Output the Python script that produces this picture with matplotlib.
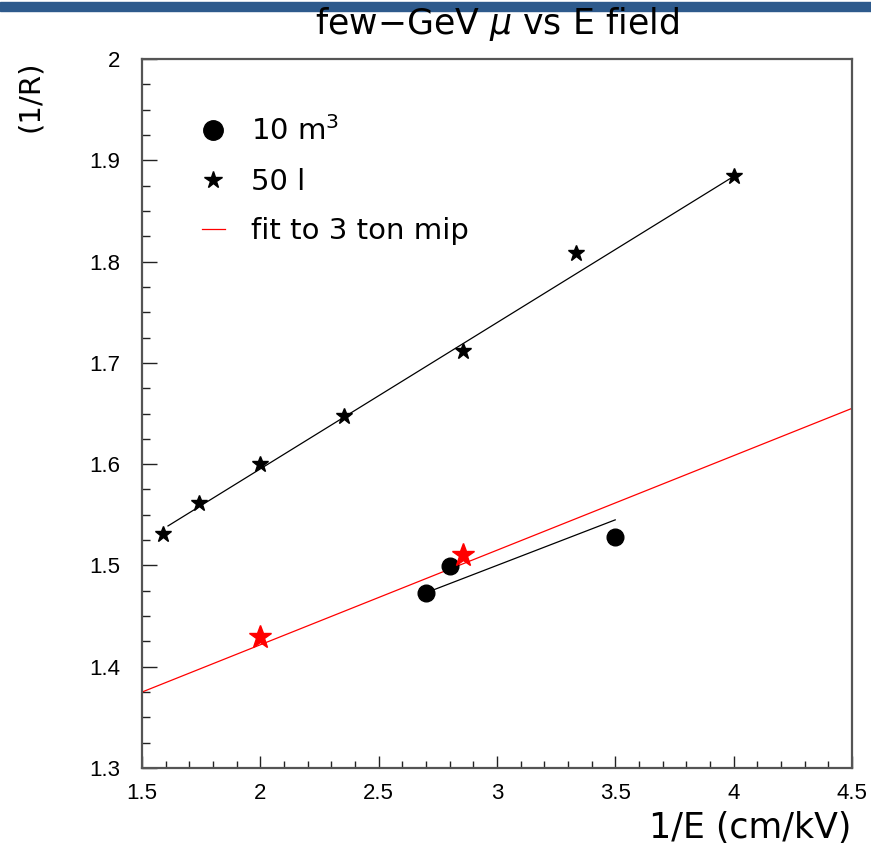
import matplotlib
matplotlib.use("Agg")
import matplotlib.pyplot as plt
from matplotlib.lines import Line2D
from matplotlib.patches import Rectangle
from matplotlib.ticker import MultipleLocator

plt.rcParams["font.family"] = ["Liberation Sans", "DejaVu Sans"]
plt.rcParams["mathtext.fontset"] = "dejavusans"

# 50 l chamber (black stars)
x_50l = [1.587, 1.739, 2.0, 2.353, 2.857, 3.333, 4.0]
y_50l = [1.531, 1.562, 1.600, 1.648, 1.712, 1.808, 1.884]
# fit line through the 50 l points (end points)
fit50_x = [1.61, 4.0]
fit50_y = [1.539, 1.884]

# 10 m3 (black circles)
x_10m3 = [2.7, 2.8, 3.5]
y_10m3 = [1.473, 1.499, 1.528]
fit10_x = [2.7, 3.5]
fit10_y = [1.473, 1.545]

# red stars
x_red = [2.0, 2.857]
y_red = [1.429, 1.510]

# fit to 3 ton mip (red line)
mip_x = [1.5, 4.5]
mip_y = [1.375, 1.655]

fig = plt.figure(figsize=(8.71, 8.51), dpi=100)
ax = fig.add_axes([0.163, 0.0975, 0.815, 0.8332])

# blue band at the very top
fig.patches.append(Rectangle((0, 0.987), 1, 0.0106, transform=fig.transFigure,
                             color="#2e5a8c", zorder=0))

ax.plot(mip_x, mip_y, color="red", lw=0.9, zorder=2)
ax.plot(fit50_x, fit50_y, color="black", lw=0.9, zorder=2)
ax.plot(fit10_x, fit10_y, color="black", lw=0.9, zorder=2)

ax.plot(x_50l, y_50l, ls="none", marker="*", color="black", markersize=12, zorder=3)
ax.plot(x_10m3, y_10m3, ls="none", marker="o", color="black", markersize=12, zorder=3)
ax.plot(x_red, y_red, ls="none", marker="*", color="red", markersize=17, zorder=3)

ax.set_xlim(1.5, 4.5)
ax.set_ylim(1.3, 2.0)
ax.xaxis.set_major_locator(MultipleLocator(0.5))
ax.xaxis.set_minor_locator(MultipleLocator(0.1))
ax.yaxis.set_major_locator(MultipleLocator(0.1))
ax.yaxis.set_minor_locator(MultipleLocator(0.025))
ax.xaxis.set_major_formatter(plt.FuncFormatter(lambda v, p: f"{v:g}"))
ax.yaxis.set_major_formatter(plt.FuncFormatter(lambda v, p: f"{v:g}"))

ax.tick_params(axis="both", which="both", direction="in", top=False, right=False,
               color="#222222", width=1)
ax.tick_params(axis="x", which="major", length=9, pad=11, labelsize=16)
ax.tick_params(axis="x", which="minor", length=5)
ax.tick_params(axis="y", which="major", length=11, pad=16, labelsize=16)
ax.tick_params(axis="y", which="minor", length=6)

for side in ["top", "right", "bottom", "left"]:
    ax.spines[side].set_color("#555555")
    ax.spines[side].set_linewidth(1.6)

txt_font = ["DejaVu Sans"]
fig.text(0.571, 0.972, "few\u2212GeV $\\mu$ vs E field", fontsize=25,
         ha="center", va="center", family=txt_font)
fig.text(0.978, 0.027, "1/E (cm/kV)", fontsize=25, ha="right", va="center",
         family=txt_font)
fig.text(0.035, 0.887, "(1/R)", fontsize=21, ha="center", va="center", rotation=90,
         family=txt_font)

handles = [
    Line2D([], [], ls="none", marker="o", color="black", markersize=14),
    Line2D([], [], ls="none", marker="*", color="black", markersize=13),
    Line2D([], [], color="red", lw=0.9),
]
labels = ["10 m$^{3}$", "50 l", "fit to 3 ton mip"]
ax.legend(handles, labels, loc="upper left", bbox_to_anchor=(0.047, 0.956),
          frameon=False, prop={"family": txt_font, "size": 21},
          handlelength=0.8, handletextpad=0.9, labelspacing=0.74)

fig.savefig("out.png", dpi=100)
